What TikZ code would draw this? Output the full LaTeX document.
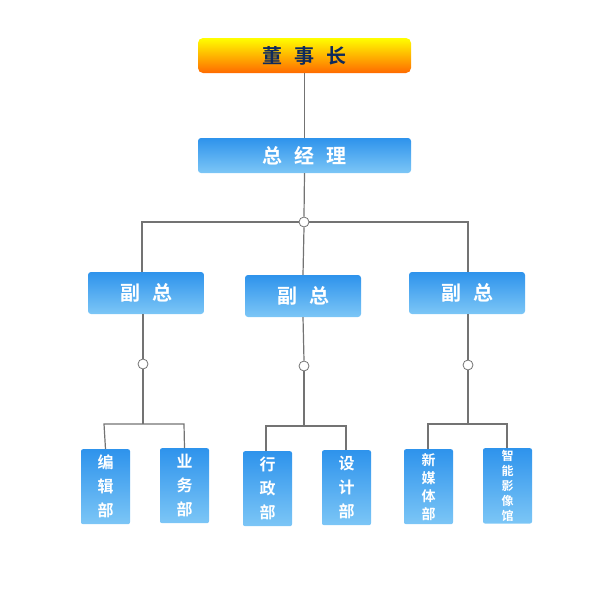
\documentclass[tikz,border=0pt]{standalone}
\usepackage{fontspec}
\newfontfamily\cjk{Noto Sans CJK SC Bold}
\begin{document}
\begin{tikzpicture}[x=1pt,y=-1pt,
  ln/.style={draw=gray!90!black,line width=1.2pt},
  jn/.style={circle,draw=gray!90!black,fill=white,inner sep=0pt,minimum size=10pt,line width=0.8pt},
  bluebox/.style={rounded corners=3pt,top color=blue1,bottom color=blue2,draw=none,text=white,font=\cjk},
  orgbox/.style={rounded corners=5pt,top color=yellow,bottom color=orange1,draw=none,text=navy,font=\cjk}]
\definecolor{blue1}{HTML}{2E93EC}
\definecolor{blue2}{HTML}{7CC6F6}
\definecolor{orange1}{HTML}{FF6A00}
\definecolor{navy}{HTML}{0E2A5C}
\useasboundingbox (0,0) rectangle (600,600);
\node[orgbox,minimum width=213pt,minimum height=35pt,font=\cjk\fontsize{20}{20}\selectfont] (ceo) at (304.5,55.5) {董\hspace{0.6em}事\hspace{0.6em}长};
\node[bluebox,minimum width=213pt,minimum height=35pt,font=\cjk\fontsize{20}{20}\selectfont] (gm) at (304.5,155.5) {总\hspace{0.6em}经\hspace{0.6em}理};
\node[jn] (j0) at (304,222) {};
\node[bluebox,minimum width=116pt,minimum height=42pt,font=\cjk\fontsize{20}{20}\selectfont] (v1) at (146,293) {副\hspace{0.6em}总};
\node[bluebox,minimum width=116pt,minimum height=42pt,font=\cjk\fontsize{20}{20}\selectfont] (v2) at (303,296) {副\hspace{0.6em}总};
\node[bluebox,minimum width=116pt,minimum height=42pt,font=\cjk\fontsize{20}{20}\selectfont] (v3) at (467,293) {副\hspace{0.6em}总};
\node[jn] (j1) at (143,364) {};
\node[jn] (j2) at (304,366) {};
\node[jn] (j3) at (468,365) {};
\tikzset{leaf/.style={bluebox,rounded corners=2pt,minimum width=49pt,minimum height=75pt,anchor=north,align=center,inner sep=2pt}}
\node[leaf,font=\cjk\fontsize{16}{24}\selectfont] (d1) at (105.5,449) {编\\辑\\部};
\node[leaf,font=\cjk\fontsize{16}{24}\selectfont] (d2) at (184.5,448) {业\\务\\部};
\node[leaf,font=\cjk\fontsize{16}{24}\selectfont] (d3) at (267.5,451) {行\\政\\部};
\node[leaf,font=\cjk\fontsize{16}{24}\selectfont] (d4) at (346.5,450) {设\\计\\部};
\node[leaf,font=\cjk\fontsize{14}{18}\selectfont] (d5) at (428.5,449) {新\\媒\\体\\部};
\node[leaf,font=\cjk\fontsize{12}{15}\selectfont] (d6) at (507.5,448) {智\\能\\影\\像\\馆};
\draw[ln] (ceo.south) -- (gm.north);
\draw[ln] (gm.south) -- (j0.north);
\draw[ln] (j0.west) -- (142,222) -- (142,272);
\draw[ln] (j0.east) -- (468,222) -- (468,272);
\draw[ln] (j0.south) -- (v2.north);
\draw[ln] (v1.south -| j1) -- (j1.north);
\draw[ln] (v2.south) -- (j2.north);
\draw[ln] (v3.south -| j3) -- (j3.north);
\draw[ln] (j1.south) -- (143,424);
\draw[ln] (d1.north) -- (104,424) -- (184,424) -- (d2.north);
\draw[ln] (j2.south) -- (304,426);
\draw[ln] (266,451) -- (266,426) -- (346,426) -- (346,450);
\draw[ln] (j3.south) -- (468,424);
\draw[ln] (428,449) -- (428,424) -- (507,424) -- (507,448);
\end{tikzpicture}
\end{document}
